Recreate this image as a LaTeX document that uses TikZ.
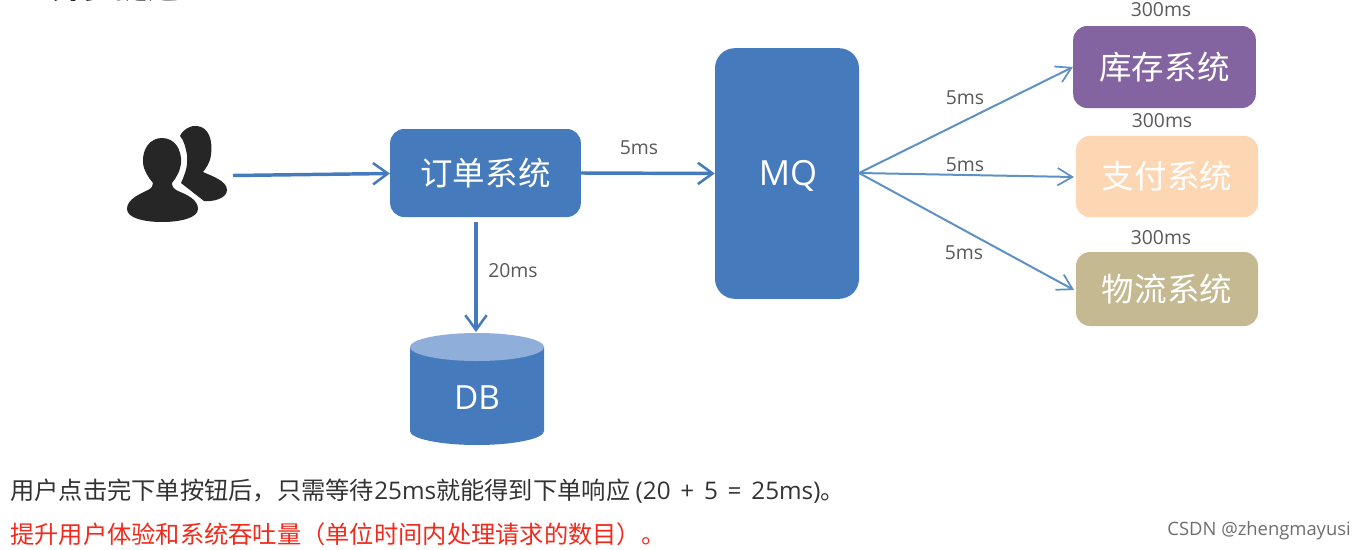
\documentclass[tikz,border=0pt]{standalone}
\usepackage{fontspec}
\setmainfont{Noto Sans CJK SC}
\newfontfamily\latinf{Open Sans}
\usetikzlibrary{arrows.meta}
\definecolor{bluefill}{HTML}{457BBD}
\definecolor{linkblue}{HTML}{5F90C6}
\definecolor{lidblue}{HTML}{8FAEDA}
\definecolor{txtgray}{HTML}{595959}
\definecolor{iconblack}{HTML}{262626}
\definecolor{txtdark}{HTML}{333333}
\definecolor{wm}{HTML}{6E6E6E}
\definecolor{stockc}{HTML}{8364A0}
\definecolor{payc}{HTML}{FDD7B4}
\definecolor{shipc}{HTML}{C4B991}
\definecolor{redtxt}{HTML}{F02A1C}
\tikzset{
 x=0.75pt,y=-0.75pt,
 boxst/.style={rounded corners=10.5pt,draw=none,text=white,inner sep=0pt,font=\fontsize{24.4}{28}\selectfont},
 bigarrow/.style={draw=bluefill,line width=2.6pt,-{Straight Barb[length=11pt,width=16pt,line width=1.9pt]}},
 thinarrow/.style={draw=linkblue,line width=1.5pt,-{Straight Barb[length=11pt,width=13pt,line width=1.3pt]}},
 lbl/.style={text=txtgray,inner sep=0pt,font=\latinf\fontsize{14.5}{18}\selectfont},
 para/.style={anchor=west,inner sep=0pt,font=\fontsize{18.2}{22}\selectfont},
}
\begin{document}
\begin{tikzpicture}
\useasboundingbox (0,0) rectangle (1365,550);
\fill[white] (0,0) rectangle (1365,550);
% clipped heading
\begin{scope}
\clip (0,0) rectangle (1365,550);
\node[inner sep=0pt,text=iconblack,font=\fontsize{24}{28}\selectfont\bfseries] (head) at (115,-14) {异步提速};
\end{scope}
% users icon
\fill[iconblack] (180,136) .. controls (183,129) and (192,125) .. (197,126)
 .. controls (209,127) and (213,141) .. (211,155) .. controls (210,163) and (206,168) .. (203,172)
 .. controls (212,176) and (227,181) .. (227,190) .. controls (227,198) and (214,202) .. (204,201)
 -- (181,183) .. controls (186,172) and (188,165) .. (187,155) .. controls (186,149) and (184,140) .. (180,136) -- cycle;
\fill[iconblack] (162,138) .. controls (175,138) and (182,150) .. (181,163)
 .. controls (180,172) and (176,178) .. (172,183) .. controls (172,187) and (174,189) .. (178,191)
 .. controls (188,195) and (198,200) .. (198,209) .. controls (198,218) and (180,222) .. (162,222)
 .. controls (144,222) and (127,218) .. (127,209) .. controls (127,199) and (140,194) .. (148,190)
 .. controls (152,188) and (153,186) .. (153,183) .. controls (148,177) and (144,171) .. (143,163)
 .. controls (142,149) and (150,138) .. (162,138) -- cycle;
\coordinate (userout) at (233,175.5);
% boxes
\node[boxst,fill=bluefill,minimum width=143pt,minimum height=66pt] (order) at (485.5,173) {订单系统};
\node[boxst,fill=bluefill,rounded corners=15pt,minimum width=108pt,minimum height=188pt] (mq) at (787,173.5) {};
\node[inner sep=0pt,text=white,font=\latinf\fontsize{26}{30}\selectfont] (mqt) at (788,176) {MQ};
\node[boxst,fill=stockc,minimum width=137pt,minimum height=61.5pt] (stock) at (1164.5,67) {库存系统};
\node[boxst,fill=payc,minimum width=136.5pt,minimum height=61pt] (pay) at (1167,176.5) {支付系统};
\node[boxst,fill=shipc,minimum width=136.5pt,minimum height=55.5pt] (ship) at (1167,289) {物流系统};
% database
\fill[bluefill] (410,347) -- (410,431) arc[start angle=180,end angle=0,x radius=67,y radius=14] -- (544,347) -- cycle;
\fill[lidblue] (477,347) ellipse[x radius=67,y radius=14];
\node[inner sep=0pt,text=white,font=\latinf\fontsize{25}{30}\selectfont] (db) at (477,398) {DB};
% connectors
\draw[bigarrow] (userout) -- (order.west |- 0,173.5);
\draw[bigarrow] (order.east) -- (mq.west);
\draw[bigarrow] (476,222) -- (476,332);
\coordinate (hub) at (859,173);
\draw[thinarrow] (hub) -- (stock.west);
\draw[thinarrow] (hub) -- (1074,177);
\draw[thinarrow] (hub) -- (1074,290);
% labels
\node[lbl] (l1) at (639,148) {5ms};
\node[lbl] (l2) at (513,271) {20ms};
\node[lbl] (l3) at (965,98) {5ms};
\node[lbl] (l4) at (965,165) {5ms};
\node[lbl] (l5) at (964,253) {5ms};
\node[lbl] (t1) at (1161,10) {300ms};
\node[lbl] (t2) at (1162,121) {300ms};
\node[lbl] (t3) at (1161,238) {300ms};
% captions
\node[para,text=txtdark] (cap1) at (10,491) {用户点击完下单按钮后，只需等待{\latinf 25ms}就能得到下单响应 {\latinf (20\hspace{2.6pt} +\hspace{2.6pt} 5\hspace{2.6pt} =\hspace{2.6pt} 25ms)}。};
\node[para,text=redtxt] (cap2) at (10,534) {提升用户体验和系统吞吐量（单位时间内处理请求的数目）。};
\node[anchor=east,inner sep=0pt,text=wm,font=\latinf\fontsize{13.8}{16}\selectfont] (mark) at (1351,531) {CSDN @zhengmayusi};
\end{tikzpicture}
\end{document}
